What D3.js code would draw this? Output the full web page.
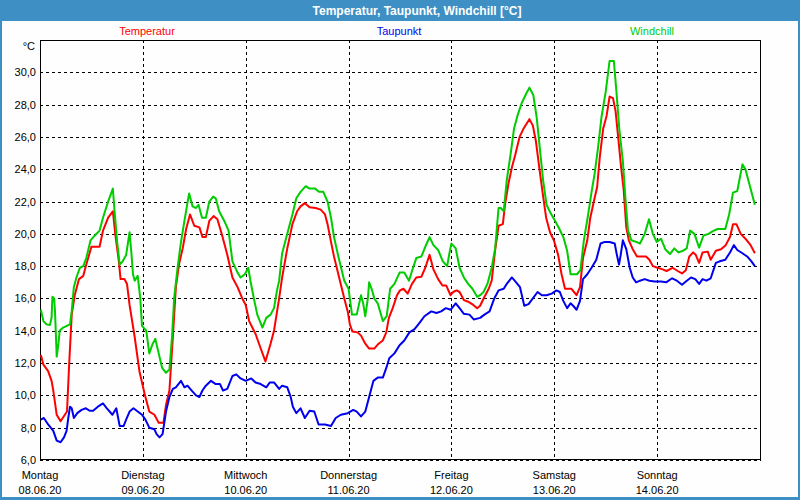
<!DOCTYPE html>
<html>
<head>
<meta charset="utf-8">
<script src="https://cdn.jsdelivr.net/npm/d3@7"></script>
<style>
  html, body { margin: 0; padding: 0; background: #fff; }
  svg { display: block; }
  text { font-family: "Liberation Sans", Arial, sans-serif; }
</style>
</head>
<body>
<svg id="chart" width="800" height="500"></svg>
<script>
// ---- data (hours since Montag 08.06.20 00:00, value °C) ----
const dayNames = ["Montag", "Dienstag", "Mittwoch", "Donnerstag", "Freitag", "Samstag", "Sonntag"];
const dayDates = ["08.06.20", "09.06.20", "10.06.20", "11.06.20", "12.06.20", "13.06.20", "14.06.20"];
const yTicks = [6, 8, 10, 12, 14, 16, 18, 20, 22, 24, 26, 28, 30];

const temperatur = [
  [0.2,12.5],[0.8,11.9],[1.9,11.5],[2.7,10.9],[3.1,10.3],[3.9,8.8],[4.8,8.4],[5.8,8.8],[6.3,9.0],[6.8,11.9],
  [7.4,15.0],[8.1,16.2],[9.1,17.2],[10.1,17.4],[10.8,18.1],[12.0,19.2],[13.9,19.2],[14.7,20.2],[15.9,21.0],[17.0,21.4],
  [17.6,19.9],[18.4,18.3],[18.8,17.2],[19.7,17.2],[20.3,16.9],[20.9,15.6],[22.1,13.6],[23.2,11.5],[24.4,10.1],[25.5,9.0],
  [26.7,8.8],[27.7,8.3],[28.8,8.3],[29.4,9.4],[30.2,10.3],[31.0,13.6],[31.7,16.7],[32.5,18.2],[33.3,19.1],[34.1,20.3],
  [35.0,21.2],[36.0,20.5],[37.2,20.4],[37.9,19.8],[38.7,19.8],[39.5,20.8],[40.5,21.1],[41.4,20.9],[42.6,19.8],[43.7,18.7],
  [44.9,17.3],[46.1,16.7],[47.2,16.0],[48.0,15.6],[48.8,14.6],[50.3,13.8],[51.5,12.9],[52.6,12.1],[53.8,13.2],[54.6,14.0],
  [55.8,16.0],[56.5,17.3],[57.7,19.1],[58.9,20.6],[60.0,21.4],[60.8,21.7],[61.8,21.9],[62.9,21.65],[64.3,21.6],[65.5,21.5],
  [66.5,21.2],[67.1,20.6],[67.9,19.5],[68.6,18.6],[69.8,17.3],[71.0,16.0],[71.8,15.2],[72.3,14.4],[72.9,13.95],[74.1,13.9],
  [74.9,13.7],[75.9,13.2],[76.8,12.9],[78.0,12.9],[79.0,13.2],[80.0,13.4],[80.8,13.9],[81.4,14.8],[82.3,15.4],[83.3,16.2],
  [84.0,16.5],[84.8,16.6],[85.8,16.3],[86.8,16.9],[87.8,17.3],[89.0,17.35],[89.9,17.9],[90.9,18.7],[91.8,17.8],[92.9,17.2],
  [93.9,16.8],[94.8,16.8],[95.8,16.2],[96.4,16.4],[97.2,16.5],[97.9,16.4],[98.9,15.9],[99.9,15.8],[101.1,15.6],[102.0,15.4],
  [102.7,15.55],[103.5,16.0],[104.7,16.6],[105.4,17.1],[106.2,19.0],[107.0,20.5],[108.0,20.6],[108.5,21.8],[109.3,23.1],[110.1,24.1],
  [110.9,24.9],[111.9,26.0],[112.8,26.5],[114.2,27.1],[115.0,26.7],[115.7,25.75],[116.5,24.1],[117.3,22.5],[118.1,21.0],[119.0,20.1],
  [119.9,19.6],[120.9,18.7],[121.7,17.5],[122.5,16.6],[123.3,16.6],[124.0,16.6],[125.2,16.2],[126.0,16.7],[126.7,18.5],[127.7,19.6],
  [128.4,21.0],[129.4,22.2],[130.0,22.9],[130.6,24.7],[131.4,26.5],[132.2,27.3],[132.9,28.5],[133.7,28.4],[134.3,27.6],[134.9,26.0],
  [135.6,24.1],[136.2,22.7],[136.8,20.4],[137.4,19.6],[138.3,19.05],[139.3,18.6],[140.3,18.6],[141.4,18.6],[142.2,18.4],[143.0,18.0],
  [144.1,17.9],[145.3,17.8],[146.2,17.7],[147.6,17.9],[148.8,17.7],[149.8,17.55],[150.7,17.75],[151.5,18.6],[152.4,18.85],[153.0,18.7],
  [153.8,18.2],[154.6,18.85],[155.8,18.9],[156.5,18.4],[157.7,18.95],[158.9,19.05],[160.0,19.3],[161.0,19.8],[161.7,20.6],[162.5,20.6],
  [163.5,20.0],[164.6,19.7],[165.8,19.3],[166.8,18.8]
];

const taupunkt = [
  [0.2,8.5],[0.9,8.6],[1.9,8.2],[3.1,7.8],[3.9,7.2],[4.8,7.1],[5.6,7.4],[6.2,7.8],[6.6,8.6],[7.0,9.3],
  [7.4,9.2],[7.9,8.6],[8.7,8.9],[9.7,9.1],[10.7,9.2],[11.6,9.05],[12.4,9.05],[13.5,9.3],[14.7,9.5],[15.6,9.2],
  [16.9,8.8],[17.8,9.2],[18.6,8.1],[19.5,8.1],[20.1,8.5],[20.9,9.0],[21.8,9.2],[22.8,9.0],[23.8,8.8],[24.6,8.5],
  [25.5,8.0],[26.7,7.9],[27.2,7.6],[27.9,7.4],[28.6,7.6],[29.4,9.0],[30.2,9.9],[31.0,10.4],[31.7,10.5],[32.9,10.9],
  [33.7,10.5],[34.4,10.6],[35.4,10.3],[36.4,10.0],[37.2,9.9],[37.9,10.3],[38.7,10.6],[39.9,10.9],[41.0,10.7],[42.0,10.7],
  [42.7,10.3],[43.7,10.4],[44.9,11.2],[45.8,11.3],[46.8,11.05],[48.0,10.9],[49.3,11.05],[50.3,10.8],[51.5,10.7],[52.8,10.5],
  [53.6,10.8],[54.6,10.8],[55.8,10.4],[56.5,10.6],[57.7,10.5],[58.5,9.9],[59.0,9.3],[59.8,8.9],[60.8,9.2],[61.8,8.6],
  [62.9,9.05],[64.0,9.0],[65.0,8.2],[66.5,8.2],[67.9,8.1],[69.0,8.6],[70.2,8.8],[71.8,8.9],[73.1,9.1],[73.9,9.0],
  [74.9,8.7],[75.9,9.0],[76.8,9.9],[77.8,10.9],[78.8,11.1],[80.0,11.1],[80.8,11.7],[81.5,12.3],[82.7,12.6],[83.9,13.1],
  [85.0,13.4],[86.2,13.9],[87.4,14.1],[88.6,14.5],[89.7,14.9],[91.3,15.2],[92.5,15.1],[93.6,15.2],[94.7,15.4],[95.8,15.3],
  [97.0,15.7],[97.9,15.4],[98.9,15.05],[100.2,15.0],[101.2,14.7],[102.7,14.8],[103.7,15.0],[104.9,15.2],[106.0,16.0],[107.0,16.5],
  [108.2,16.6],[108.9,16.9],[110.1,17.3],[111.1,17.0],[112.0,16.7],[113.0,15.55],[114.0,15.65],[115.0,16.0],[116.1,16.4],[117.1,16.2],
  [118.2,16.2],[119.4,16.3],[120.5,16.5],[121.3,16.4],[122.1,15.85],[123.0,15.4],[123.8,15.7],[124.4,15.55],[125.2,15.3],[126.0,15.85],
  [126.7,17.2],[127.7,17.5],[128.7,17.9],[129.8,18.4],[130.8,19.4],[131.8,19.5],[132.9,19.5],[134.1,19.4],[134.6,18.7],[135.1,18.1],
  [135.5,18.7],[136.0,19.6],[136.8,19.05],[137.6,17.9],[138.3,17.3],[139.1,17.0],[140.0,17.1],[141.1,17.2],[142.2,17.1],[143.4,17.05],
  [144.9,17.05],[146.1,17.0],[147.5,17.25],[148.6,17.1],[149.8,16.85],[150.7,17.05],[151.9,17.3],[152.9,17.2],[153.8,16.9],[154.6,17.2],
  [155.5,17.1],[156.5,17.25],[157.7,18.2],[158.6,18.3],[159.9,18.4],[161.0,18.85],[161.9,19.3],[162.7,19.0],[163.9,18.8],[165.0,18.6],
  [166.0,18.3],[166.8,18.0]
];

const windchill = [
  [0.2,15.3],[0.8,14.6],[1.5,14.4],[2.3,14.35],[2.7,14.8],[2.9,16.1],[3.3,16.0],[3.5,15.2],[3.9,12.4],[4.3,13.2],
  [4.6,14.0],[5.4,14.2],[7.0,14.4],[7.4,15.2],[7.9,16.7],[8.5,17.3],[9.3,17.9],[10.1,18.0],[10.8,18.5],[11.8,19.6],
  [12.8,19.9],[13.9,20.2],[14.7,21.0],[15.9,22.0],[17.0,22.8],[17.4,21.4],[18.0,19.5],[18.6,18.1],[19.3,18.3],[20.1,18.7],
  [20.9,20.1],[21.3,18.9],[21.7,17.5],[22.1,17.1],[22.8,17.4],[23.4,16.0],[23.8,14.3],[24.8,14.0],[25.5,12.6],[26.3,13.2],
  [26.9,13.5],[27.7,12.6],[28.5,11.7],[29.4,11.4],[30.2,11.6],[30.8,13.6],[31.3,16.0],[32.1,17.9],[32.9,19.5],[33.7,20.8],
  [34.4,21.9],[34.8,22.5],[35.6,21.7],[36.4,21.6],[37.0,21.8],[37.8,21.0],[38.7,21.0],[39.5,22.0],[40.4,22.3],[41.0,22.2],
  [41.8,21.4],[43.0,20.8],[44.0,20.2],[44.9,18.3],[46.1,17.6],[46.8,17.3],[47.8,17.5],[48.6,17.9],[49.1,17.1],[49.9,16.0],
  [50.7,15.0],[51.9,14.2],[52.8,14.8],[53.8,15.0],[54.6,15.4],[55.3,16.5],[55.8,17.1],[56.5,18.8],[57.7,20.0],[58.9,21.2],
  [59.8,22.2],[60.8,22.6],[62.0,22.95],[62.9,22.8],[64.2,22.8],[65.1,22.6],[66.1,22.6],[67.1,22.0],[67.9,21.0],[68.6,19.8],
  [69.7,18.5],[71.0,17.1],[72.0,16.6],[72.8,15.0],[73.9,15.0],[74.9,16.2],[75.4,15.7],[75.9,14.9],[76.5,16.0],[76.8,17.0],
  [77.5,16.5],[78.0,16.0],[78.8,15.7],[80.0,14.6],[80.9,14.9],[81.7,16.6],[82.7,16.9],[83.9,17.6],[85.0,17.6],[86.1,17.1],
  [86.8,17.7],[87.8,18.5],[89.0,18.6],[89.9,19.2],[90.9,19.8],[91.8,19.3],[92.9,19.0],[94.0,18.3],[95.0,18.0],[95.6,18.9],
  [96.0,19.4],[97.0,19.1],[97.9,17.9],[98.9,17.3],[99.9,16.9],[100.9,16.6],[102.0,16.1],[102.7,16.2],[103.5,16.4],[104.4,16.9],
  [105.4,17.9],[106.2,19.1],[107.0,21.6],[107.5,21.6],[108.2,21.4],[108.9,23.3],[109.9,25.1],[110.6,26.5],[111.4,27.3],[112.4,28.1],
  [113.5,28.7],[114.2,29.05],[115.1,28.6],[115.9,27.2],[116.7,25.1],[117.4,23.3],[118.2,21.8],[119.1,21.3],[120.2,20.8],[121.2,20.3],
  [122.1,19.8],[123.0,18.95],[123.8,17.5],[124.6,17.5],[125.3,17.5],[126.1,17.75],[126.9,19.6],[127.9,21.2],[128.7,22.6],[129.4,23.7],
  [130.2,25.3],[131.0,27.2],[132.0,28.8],[132.9,30.7],[133.9,30.7],[134.5,28.8],[135.2,26.4],[136.0,24.5],[136.6,22.2],[137.2,20.2],
  [138.0,19.6],[139.1,19.5],[140.0,19.4],[141.1,20.0],[142.1,20.9],[143.0,20.0],[143.9,19.5],[144.9,19.7],[145.9,19.05],[147.0,18.75],
  [148.0,19.1],[149.0,18.85],[150.0,18.95],[150.9,19.1],[151.7,20.2],[152.7,20.0],[153.8,19.15],[154.8,19.9],[156.0,20.0],[156.9,20.15],
  [158.1,20.3],[159.9,20.3],[160.8,21.2],[161.7,22.55],[162.7,22.65],[163.9,24.3],[164.6,24.0],[165.5,23.1],[166.8,21.8]
];

const seriesNames = ["Temperatur", "Taupunkt", "Windchill"];
const seriesColors = ["#ff0000", "#0000ee", "#00cc00"];

// ---- layout ----
const svg = d3.select("#chart");
const W = 800, H = 500;
const m = { left: 40, top: 40, right: 760, bottom: 460 };

const x = d3.scaleLinear().domain([0, 168]).range([m.left, m.right]);
const y = d3.scaleLinear().domain([6, 32]).range([m.bottom, m.top]);

// window background + border
svg.append("rect").attr("x", 0).attr("y", 0).attr("width", W).attr("height", H).attr("fill", "#3d8fc4");
svg.append("rect").attr("x", 2).attr("y", 21).attr("width", W - 4).attr("height", H - 24).attr("fill", "#fdfefd");

// title
svg.append("text").attr("x", 417).attr("y", 14.5).attr("text-anchor", "middle")
  .attr("fill", "#ffffff").attr("font-weight", "bold").attr("font-size", 12)
  .text("Temperatur, Taupunkt, Windchill [°C]");

// legend labels
const legendX = [147, 399, 652];
seriesNames.forEach((n, i) => {
  svg.append("text").attr("x", legendX[i]).attr("y", 35).attr("text-anchor", "middle")
    .attr("font-size", 11).attr("fill", seriesColors[i]).text(n);
});

// unit
svg.append("text").attr("x", 35).attr("y", 50).attr("text-anchor", "end")
  .attr("font-size", 11).attr("fill", "#000").text("°C");

// horizontal grid (dashed)
const grid = svg.append("g").attr("shape-rendering", "crispEdges");
yTicks.forEach(v => {
  grid.append("line").attr("x1", m.left).attr("x2", m.right)
    .attr("y1", Math.round(y(v)) + 0.5).attr("y2", Math.round(y(v)) + 0.5)
    .attr("stroke", "#000").attr("stroke-dasharray", "3,3");
});
// vertical grid (days)
d3.range(1, 7).forEach(d => {
  grid.append("line").attr("y1", m.top).attr("y2", m.bottom)
    .attr("x1", Math.round(x(d * 24)) + 0.5).attr("x2", Math.round(x(d * 24)) + 0.5)
    .attr("stroke", "#000").attr("stroke-dasharray", "3,3");
});

// y axis labels
const yAxis = d3.axisLeft(y).tickValues(yTicks).tickSize(0).tickPadding(4)
  .tickFormat(d => d3.format(".1f")(d).replace(".", ","));
const ya = svg.append("g").attr("transform", `translate(${m.left},0)`).call(yAxis);
ya.select(".domain").remove();
ya.selectAll("text").attr("font-size", 11).attr("fill", "#000")
  .attr("font-family", '"Liberation Sans", Arial, sans-serif');

// x axis labels (day names + dates)
const xl = svg.append("g");
d3.range(0, 7).forEach(d => {
  xl.append("text").attr("x", x(d * 24)).attr("y", 479).attr("text-anchor", "middle")
    .attr("font-size", 11).attr("fill", "#000").text(dayNames[d]);
  xl.append("text").attr("x", x(d * 24)).attr("y", 494).attr("text-anchor", "middle")
    .attr("font-size", 11).attr("fill", "#000").text(dayDates[d]);
});

// frame
const fr = svg.append("g").attr("shape-rendering", "crispEdges");
fr.append("line").attr("x1", m.left + 0.5).attr("x2", m.left + 0.5).attr("y1", m.top).attr("y2", m.bottom + 1).attr("stroke", "#000").attr("stroke-width", 1.5);
fr.append("line").attr("x1", m.left).attr("x2", m.right + 1).attr("y1", m.top + 0.5).attr("y2", m.top + 0.5).attr("stroke", "#000").attr("stroke-width", 1.5);
fr.append("line").attr("x1", m.right + 0.5).attr("x2", m.right + 0.5).attr("y1", m.top).attr("y2", m.bottom + 1).attr("stroke", "#000").attr("stroke-width", 1.5);
fr.append("line").attr("x1", m.left).attr("x2", m.right).attr("y1", m.bottom - 0.5).attr("y2", m.bottom - 0.5).attr("stroke", "#000");
fr.append("line").attr("x1", m.left).attr("x2", m.right).attr("y1", m.bottom + 0.5).attr("y2", m.bottom + 0.5).attr("stroke", "#000").attr("stroke-dasharray", "3,3");

// series lines
const line = d3.line().x(d => x(d[0])).y(d => y(d[1]));
[temperatur, taupunkt, windchill].forEach((s, i) => {
  svg.append("path").datum(s).attr("d", line).attr("fill", "none")
    .attr("stroke", seriesColors[i]).attr("stroke-width", 2).attr("stroke-linejoin", "round");
});
</script>
</body>
</html>
